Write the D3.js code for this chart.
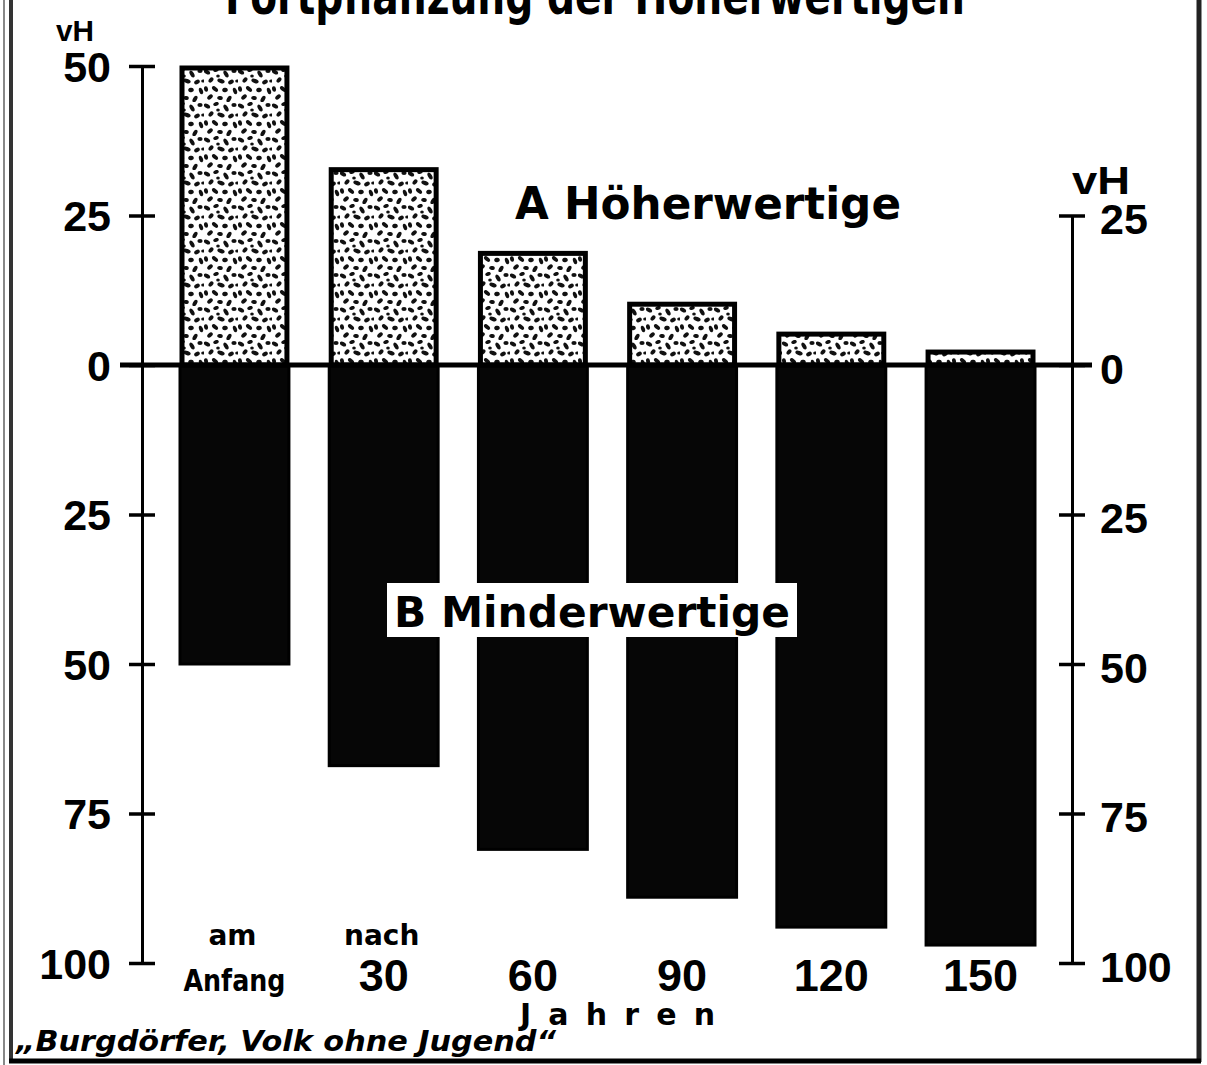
<!DOCTYPE html>
<html><head><meta charset="utf-8">
<script src="https://cdn.jsdelivr.net/npm/d3@7"></script>
<style>
html,body{margin:0;padding:0;background:#fff;}
svg{display:block;}
</style></head>
<body>
<script>
// ---- data ----
const categories = ["am Anfang", "nach 30", "60", "90", "120", "150"];
const labelTop = ["am", "nach", "", "", "", ""];
const labelMain = ["Anfang", "30", "60", "90", "120", "150"];
const hoeherwertige = [50, 33, 19, 10.5, 5.5, 2.5];     // A, upward
const minderwertige = [50, 67, 81, 89, 94, 97];         // B, downward
const leftTicks = [50, 25, 0, -25, -50, -75, -100];
const rightTicks = [25, 0, -25, -50, -75, -100];
const titleText = "Fortpflanzung der Höherwertigen";
const labelA = "A Höherwertige";
const labelB = "B Minderwertige";
const unitLabel = "vH";
const xAxisTitle = "Jahren";
const sourceText = "„Burgdörfer, Volk ohne Jugend“";

const W = 1207, H = 1065;
const DJ = "'DejaVu Sans', sans-serif";
const LIB = "'Liberation Sans', Arial, sans-serif";
const svg = d3.select("body").append("svg").attr("width", W).attr("height", H);

function txt(sel, fam) {
  return sel.style("font-family", fam || DJ).style("font-weight", "bold").attr("fill", "#000");
}

// stipple pattern
const defs = svg.append("defs");
const pat = defs.append("pattern").attr("id", "stip").attr("patternUnits", "userSpaceOnUse")
  .attr("width", 34).attr("height", 34);
pat.append("rect").attr("width", 34).attr("height", 34).attr("fill", "#fff");
const blobs = [[3,4,3.4,2.0,30],[12,2,2.8,1.9,-20],[22,6,3.8,2.0,60],[30,3,2.6,1.9,0],
  [7,12,3.0,2.0,-50],[17,13,3.8,2.0,20],[27,14,3.0,2.1,-30],[2,21,2.8,2.0,80],
  [11,21,3.6,1.9,40],[21,22,2.8,2.2,-10],[31,23,3.4,1.9,70],[6,29,3.2,2.0,-40],
  [16,30,2.8,2.0,10],[25,31,3.6,2.0,-60],[33,13,1.8,1.6,0],[14,8,1.8,1.5,0]];
pat.selectAll("ellipse").data(blobs).join("ellipse")
  .attr("cx", d => d[0]).attr("cy", d => d[1]).attr("rx", d => d[2]).attr("ry", d => d[3])
  .attr("transform", d => `rotate(${d[4]},${d[0]},${d[1]})`).attr("fill", "#111");

// scales
const x = d3.scaleBand().domain(categories).range([180, 1035]).paddingInner(0.27).paddingOuter(0);
const y = d3.scaleLinear().domain([-100, 50]).range([963, 66]);
const leftX = 142, rightX = 1072;

// frame
svg.append("line").attr("x1", 4).attr("x2", 4).attr("y1", 0).attr("y2", H).attr("stroke", "#888").attr("stroke-width", 2);
svg.append("line").attr("x1", 11).attr("x2", 11).attr("y1", 0).attr("y2", 1062).attr("stroke", "#333").attr("stroke-width", 4);
svg.append("line").attr("x1", 1199).attr("x2", 1199).attr("y1", 0).attr("y2", 1062).attr("stroke", "#222").attr("stroke-width", 5);
svg.append("line").attr("x1", 9).attr("x2", 1201).attr("y1", 1061).attr("y2", 1061).attr("stroke", "#000").attr("stroke-width", 5);

// title (cut at top, as in the reference)
txt(svg.append("text")).attr("x", 595).attr("y", 14).attr("text-anchor", "middle")
  .attr("font-size", 52).attr("textLength", 740).attr("lengthAdjust", "spacingAndGlyphs")
  .text(titleText);

// bars
const g = svg.append("g");
g.selectAll("rect.neg").data(categories).join("rect").attr("class", "neg")
  .attr("x", d => x(d)).attr("width", x.bandwidth())
  .attr("y", y(0)).attr("height", (d, i) => y(-minderwertige[i]) - y(0))
  .attr("fill", "#060606").attr("stroke", "#000").attr("stroke-width", 3);
g.selectAll("rect.pos").data(categories).join("rect").attr("class", "pos")
  .attr("x", d => x(d) + 2).attr("width", x.bandwidth() - 4)
  .attr("y", (d, i) => y(hoeherwertige[i]) + 2).attr("height", (d, i) => y(0) - y(hoeherwertige[i]) - 2)
  .attr("fill", "url(#stip)").attr("stroke", "#000").attr("stroke-width", 5);

// left axis
const axL = svg.append("g").attr("transform", `translate(${leftX},0)`)
  .call(d3.axisLeft(y).tickValues(leftTicks).tickFormat(d => Math.abs(d)).tickSize(13).tickSizeOuter(0).tickPadding(18));
axL.select(".domain").attr("stroke", "#000").attr("stroke-width", 3);
axL.selectAll(".tick line").attr("x1", 13).attr("stroke", "#000").attr("stroke-width", 3.5);
txt(axL.selectAll(".tick text"), LIB).style("font-size", "43px").attr("dy", "0.36em");

// right axis
const yR = y.copy().domain([-100, 25]).range([y(-100), y(25)]);
const axR = svg.append("g").attr("transform", `translate(${rightX},0)`)
  .call(d3.axisRight(yR).tickValues(rightTicks).tickFormat(d => Math.abs(d)).tickSize(13).tickSizeOuter(0).tickPadding(15));
axR.select(".domain").attr("stroke", "#000").attr("stroke-width", 3);
axR.selectAll(".tick line").attr("x1", -13).attr("stroke", "#000").attr("stroke-width", 3.5);
txt(axR.selectAll(".tick text"), LIB).style("font-size", "43px").attr("dy", "0.42em");

// zero line
svg.append("line").attr("x1", 120).attr("x2", 1092).attr("y1", y(0)).attr("y2", y(0))
  .attr("stroke", "#000").attr("stroke-width", 5);

// unit labels
txt(svg.append("text"), LIB).attr("x", 56).attr("y", 41).attr("font-size", 30).attr("textLength", 38)
  .attr("lengthAdjust", "spacingAndGlyphs").text(unitLabel);
txt(svg.append("text"), LIB).attr("x", 1072).attr("y", 194).attr("font-size", 38).attr("textLength", 58)
  .attr("lengthAdjust", "spacingAndGlyphs").text(unitLabel);

// x labels
const xl = svg.append("g");
txt(xl.selectAll("text.top").data(categories).join("text").attr("class", "top"))
  .attr("x", d => x(d) + x.bandwidth() / 2 - 2).attr("y", 945).attr("text-anchor", "middle")
  .attr("font-size", 28).text((d, i) => labelTop[i]);
const mains = xl.selectAll("text.main").data(categories).join("text").attr("class", "main")
  .attr("x", d => x(d) + x.bandwidth() / 2).attr("y", 991).attr("text-anchor", "middle")
  .attr("font-size", (d, i) => i === 0 ? 30 : 45)
  .text((d, i) => labelMain[i]);
mains.style("font-weight", "bold").attr("fill", "#000")
  .style("font-family", (d, i) => i === 0 ? DJ : LIB);
mains.filter((d, i) => i === 0).attr("textLength", 102).attr("lengthAdjust", "spacingAndGlyphs");
txt(svg.append("text")).attr("x", 520).attr("y", 1025).attr("font-size", 30).attr("textLength", 195)
  .attr("lengthAdjust", "spacing").text(xAxisTitle);

// series labels
txt(svg.append("text")).attr("x", 515).attr("y", 219).attr("font-size", 44).attr("textLength", 386)
  .attr("lengthAdjust", "spacingAndGlyphs").text(labelA);
svg.append("rect").attr("x", 387).attr("y", 583).attr("width", 410).attr("height", 54).attr("fill", "#fff");
txt(svg.append("text")).attr("x", 394).attr("y", 627).attr("font-size", 42).attr("textLength", 396)
  .attr("lengthAdjust", "spacingAndGlyphs").text(labelB);

// source
txt(svg.append("text")).attr("x", 16).attr("y", 1051).attr("font-size", 28).style("font-style", "italic")
  .attr("textLength", 540).attr("lengthAdjust", "spacingAndGlyphs").text(sourceText);
</script>
</body></html>
